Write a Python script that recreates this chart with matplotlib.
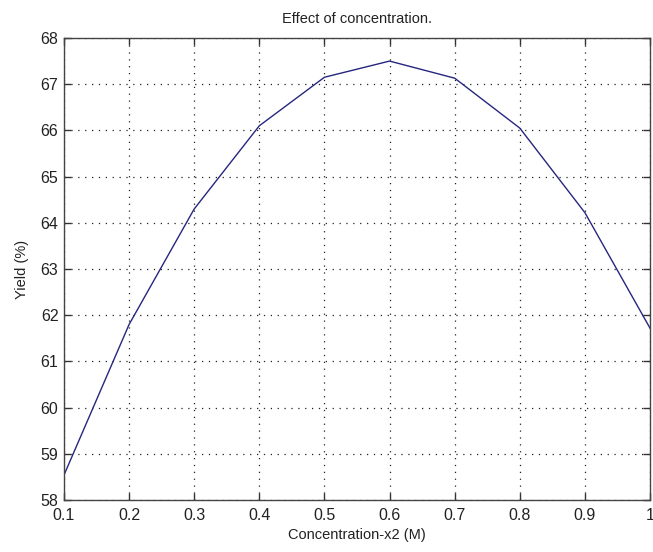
import matplotlib
matplotlib.use('Agg')
import matplotlib.pyplot as plt
import numpy as np

# concentration vs yield
conc = [0.1, 0.2, 0.3, 0.4, 0.5, 0.6, 0.7, 0.8, 0.9, 1.0]
yield_pct = [58.54, 61.8, 64.3, 66.1, 67.15, 67.5, 67.13, 66.05, 64.22, 61.72]

xticks = [0.1, 0.2, 0.3, 0.4, 0.5, 0.6, 0.7, 0.8, 0.9, 1.0]
xtick_labels = ['0.1', '0.2', '0.3', '0.4', '0.5', '0.6', '0.7', '0.8', '0.9', '1']
yticks = [58, 59, 60, 61, 62, 63, 64, 65, 66, 67, 68]

plt.rcParams['font.family'] = ['Liberation Sans', 'DejaVu Sans']

fig = plt.figure(figsize=(6.53, 5.52), dpi=100)
ax = fig.add_axes([0.098, 0.0942, 0.8974, 0.837])

ax.plot(conc, yield_pct, color='#26267f', linewidth=1.0)

ax.set_xlim(0.1, 1.0)
ax.set_ylim(58, 68)
ax.set_xticks(xticks)
ax.set_xticklabels(xtick_labels)
ax.set_yticks(yticks)

ax.grid(True, color='#222222', linestyle=(0, (1, 4.5)), linewidth=0.9)
ax.tick_params(direction='in', length=5, width=1, colors='#333333',
               labelcolor='#222222', labelsize=11.5, top=True, right=True, pad=3)
ax.tick_params(axis='x', pad=5.5)
ax.tick_params(axis='y', pad=4)
for s in ax.spines.values():
    s.set_color('#444444')
    s.set_linewidth(1.0)

ax.set_title('Effect of concentration.', fontsize=10.5, color='#222222', pad=11)
ax.set_xlabel('Concentration-x2 (M)', fontsize=10.5, color='#222222', labelpad=4)
ax.set_ylabel('Yield (%)', fontsize=10.5, color='#222222', labelpad=8)

fig.savefig('out.png', dpi=100)
